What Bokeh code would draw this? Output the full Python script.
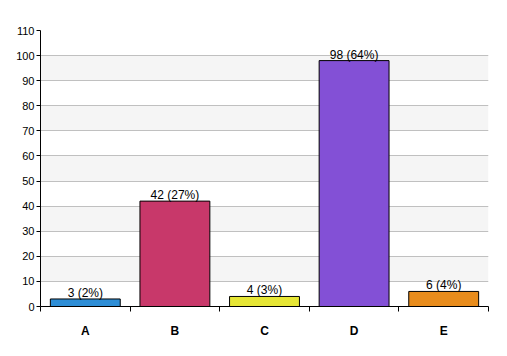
from bokeh.plotting import figure
from bokeh.models import FixedTicker, ColumnDataSource, Range1d
from bokeh.core.properties import value
from bokeh.embed import file_html
from bokeh.resources import INLINE

categories = ["A", "B", "C", "D", "E"]
counts = [3, 42, 4, 98, 6]
percents = [2, 27, 3, 64, 4]
colors = ["#2e8ed6", "#c8386a", "#e6e635", "#8350d6", "#e88c1c"]
y_ticks = list(range(0, 111, 10))

xs = [i + 0.5 for i in range(len(categories))]
labels = [f"{c} ({p}%)" for c, p in zip(counts, percents)]
src = ColumnDataSource(dict(x=xs, top=counts, color=colors, label=labels))

p = figure(width=507, height=356, output_backend="svg", toolbar_location=None,
           x_range=Range1d(0, 5), y_range=Range1d(0, 110),
           min_border_left=40, min_border_right=19, min_border_top=30, min_border_bottom=50)
p.outline_line_color = None
p.background_fill_color = "white"
p.border_fill_color = "white"

p.vbar(x="x", top="top", width=0.78, bottom=0, fill_color="color", line_color="black",
       line_width=1, source=src)
p.text(x="x", y="top", text="label", source=src, text_align="center", text_baseline="bottom",
       text_font_size="12px", text_color="black", y_offset=1, text_font=value("Liberation Sans"))

p.xgrid.visible = False
p.ygrid.ticker = FixedTicker(ticks=y_ticks[1:])
p.ygrid.grid_line_color = "#c0c0c0"
p.ygrid.band_fill_color = "#f5f5f5"
p.ygrid.band_fill_alpha = 1

yax = p.yaxis[0]
yax.ticker = FixedTicker(ticks=y_ticks)
yax.axis_line_color = "black"
yax.major_tick_out = 4
yax.major_tick_in = 0
yax.minor_tick_line_color = None
yax.major_label_text_font = "Liberation Sans"
yax.major_label_text_font_size = "11px"
yax.major_label_text_color = "black"
yax.major_label_standoff = 2

xax = p.xaxis[0]
xax.ticker = FixedTicker(ticks=xs, minor_ticks=list(range(0, 6)))
xax.major_label_overrides = {x: c for x, c in zip(xs, categories)}
xax.major_tick_out = 0
xax.major_tick_in = 0
xax.minor_tick_out = 5
xax.minor_tick_in = 0
xax.minor_tick_line_color = "black"
xax.axis_line_color = "black"
xax.major_label_text_font = "Liberation Sans"
xax.major_label_text_font_style = "bold"
xax.major_label_text_font_size = "12px"
xax.major_label_text_color = "black"
xax.major_label_standoff = 12

open("out.html", "w").write(file_html(p, INLINE))
